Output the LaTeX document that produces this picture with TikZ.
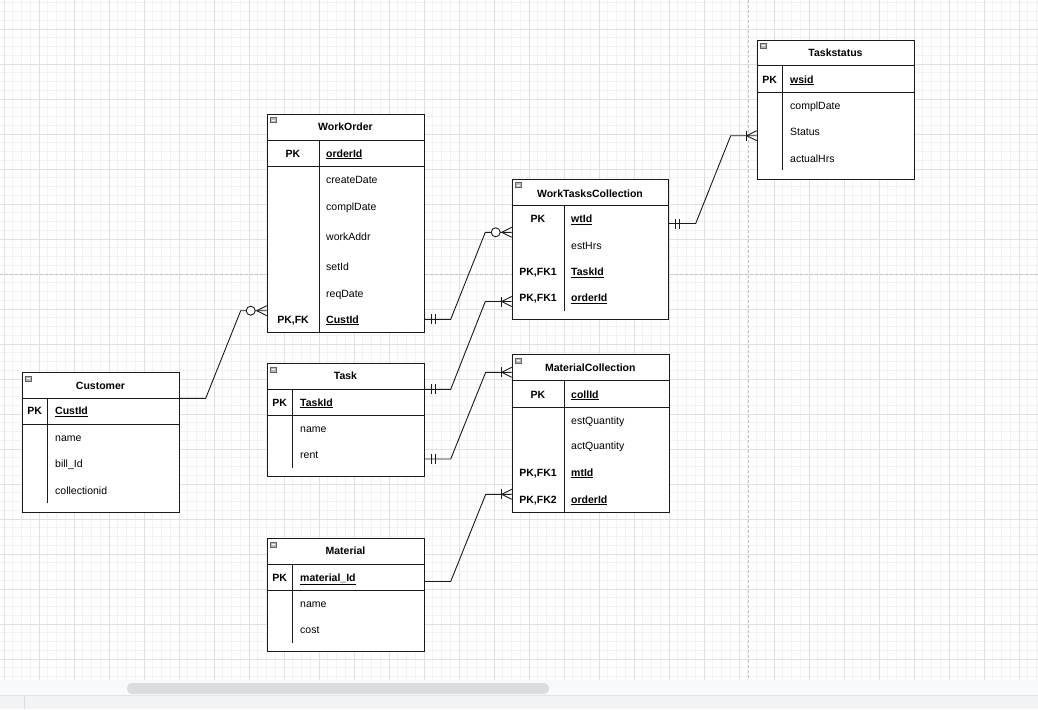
\documentclass[tikz,border=0pt]{standalone}
\usepackage{fontspec}
\setmainfont{Liberation Sans}
\usetikzlibrary{calc}
\definecolor{minorgrid}{HTML}{F2F2F2}
\definecolor{majorgrid}{HTML}{E0E0E0}
\definecolor{pagebreak}{HTML}{C4C4C4}
\definecolor{barbg}{HTML}{F8F9FA}
\definecolor{footbg}{HTML}{F1F3F4}
\definecolor{thumb}{HTML}{DADCE0}
\definecolor{linec}{HTML}{1A1A1A}
\tikzset{
  tbl/.style={draw=linec, fill=white, line width=0.9pt, inner sep=0pt},
  inner/.style={draw=linec, line width=0.9pt},
  conn/.style={draw=linec, line width=0.9pt},
  ttlst/.style={anchor=base, inner sep=0pt, font=\fontsize{10.5}{12}\selectfont\bfseries},
  keyst/.style={anchor=base, inner sep=0pt, font=\fontsize{10.5}{12}\selectfont\bfseries},
  fldst/.style={anchor=base west, inner sep=0pt, font=\fontsize{10.5}{12}\selectfont},
  iconst/.style={fill=gray!55, draw=gray!75!black, line width=0.5pt},
}
\newcommand\ertitle[4]{\node[ttlst] (#1) at (#2,#3+3.8) {#4};}
\newcommand\erkey[4]{\node[keyst] (#1) at (#2,#3+3.8) {#4};}
\newcommand\erfld[4]{\node[fldst] (#1) at (#2,#3+3.8) {#4};}
\newcommand\erufld[4]{\node[fldst] (#1) at (#2,#3+3.8) {\bfseries\underline{#4}};}
\newcommand\ericon[2]{\draw[iconst] (#1+3.5,#2+3.5) rectangle ++(6.5,5);
  \draw[white, line width=0.7pt] (#1+4.8,#2+6) -- ++(3.9,0);}
\newcommand\crowend[1]{\draw[conn] ($(#1)+(-10,0)$) -- ($(#1)+(0,-5)$) ($(#1)+(-10,0)$) -- ($(#1)+(0,5)$);}
\newcommand\barend[1]{\draw[conn] ($(#1)+(-10,-5)$) -- ($(#1)+(-10,5)$);}
\newcommand\zeroend[1]{\draw[conn, fill=white] ($(#1)+(-16,0)$) circle (4.5);}
\newcommand\twobars[1]{\draw[conn] ($(#1)+(6,-5)$) -- ($(#1)+(6,5)$) ($(#1)+(10.5,-5)$) -- ($(#1)+(10.5,5)$);}
\begin{document}
\begin{tikzpicture}[x=1pt,y=-1pt]
\useasboundingbox (0,0) rectangle (1038,709);
\fill[white] (0,0) rectangle (1038,709);
% grid
\begin{scope}
\clip (0,0) rectangle (1038,680);
\foreach \i in {-1,...,118} \draw[minorgrid, line width=0.8pt] ({4+8.75*\i},0) -- ++(0,680);
\foreach \j in {0,...,78} \draw[minorgrid, line width=0.8pt] (0,{2.75+8.75*\j}) -- ++(1038,0);
\foreach \i in {0,...,29} \draw[majorgrid, line width=0.8pt] ({4+35*\i},0) -- ++(0,680);
\foreach \j in {0,...,20} \draw[majorgrid, line width=0.8pt] (0,{-6+35*\j}) -- ++(1038,0);
\draw[pagebreak, line width=1pt, dash pattern=on 3pt off 2pt] (0,274) -- (1038,274);
\draw[pagebreak, line width=1pt, dash pattern=on 3pt off 2pt] (748,0) -- (748,680);
\end{scope}
% scrollbar area
\fill[barbg] (0,680) rectangle (1038,695);
\draw[thumb!80, line width=0.8pt] (0,695.5) -- (1038,695.5);
\fill[footbg] (0,696) rectangle (1038,709);
\draw[thumb, line width=0.8pt] (24.5,696) -- (24.5,709);
\fill[thumb, rounded corners=5pt] (127,683) rectangle (549,694);

% ---------------- Customer
\node[tbl, anchor=north west, minimum width=157.6, minimum height=139.4] (cu) at (21.7,372.3) {};
\draw[inner] (21.7,398.3) -- (179.3,398.3) (21.7,424.7) -- (179.3,424.7) (47.7,398.3) -- (47.7,503.3);
\ericon{21.7}{372.3}
\ertitle{cu-t}{100.5}{385.7}{Customer}
\erkey{cu-k1}{34.7}{411}{PK}
\erufld{cu-f1}{55}{411}{CustId}
\erfld{cu-f2}{55}{437.3}{name}
\erfld{cu-f3}{55}{464}{bill\_Id}
\erfld{cu-f4}{55}{490.7}{collectionid}

% ---------------- WorkOrder
\node[tbl, anchor=north west, minimum width=157.6, minimum height=218.3] (wo) at (266.7,114) {};
\draw[inner] (266.7,140) -- (424.3,140) (266.7,166) -- (424.3,166) (319.3,140) -- (319.3,332.3);
\ericon{266.7}{114}
\ertitle{wo-t}{345.5}{126.7}{WorkOrder}
\erkey{wo-k1}{293}{153.3}{PK}
\erkey{wo-k2}{293}{319.3}{PK,FK}
\erufld{wo-f1}{326}{153.3}{orderId}
\erfld{wo-f2}{326}{179.3}{createDate}
\erfld{wo-f3}{326}{206.7}{complDate}
\erfld{wo-f4}{326}{236.7}{workAddr}
\erfld{wo-f5}{326}{266.7}{setId}
\erfld{wo-f6}{326}{293.3}{reqDate}
\erufld{wo-f7}{326}{319.3}{CustId}

% ---------------- Task
\node[tbl, anchor=north west, minimum width=157.6, minimum height=112.4] (ta) at (266.7,363.3) {};
\draw[inner] (266.7,389) -- (424.3,389) (266.7,415.7) -- (424.3,415.7) (292.7,389) -- (292.7,468.3);
\ericon{266.7}{363.3}
\ertitle{ta-t}{345.5}{376}{Task}
\erkey{ta-k1}{279.7}{402.3}{PK}
\erufld{ta-f1}{300}{402.3}{TaskId}
\erfld{ta-f2}{300}{429}{name}
\erfld{ta-f3}{300}{455}{rent}

% ---------------- Material
\node[tbl, anchor=north west, minimum width=157.6, minimum height=112.4] (ma) at (266.7,538.3) {};
\draw[inner] (266.7,564) -- (424.3,564) (266.7,590.7) -- (424.3,590.7) (292.7,564) -- (292.7,643.3);
\ericon{266.7}{538.3}
\ertitle{ma-t}{345.5}{551}{Material}
\erkey{ma-k1}{279.7}{577.3}{PK}
\erufld{ma-f1}{300}{577.3}{material\_Id}
\erfld{ma-f2}{300}{604}{name}
\erfld{ma-f3}{300}{630}{cost}

% ---------------- WorkTasksCollection
\node[tbl, anchor=north west, minimum width=156.6, minimum height=140] (wt) at (511.7,179) {};
\draw[inner] (511.7,205.7) -- (668.3,205.7) (564.3,205.7) -- (564.3,311);
\ericon{511.7}{179}
\ertitle{wt-t}{590}{193.3}{WorkTasksCollection}
\erkey{wt-k1}{538}{219}{PK}
\erkey{wt-k2}{538}{271.7}{PK,FK1}
\erkey{wt-k3}{538}{297.7}{PK,FK1}
\erufld{wt-f1}{571}{219}{wtId}
\erfld{wt-f2}{571}{245.7}{estHrs}
\erufld{wt-f3}{571}{271.7}{TaskId}
\erufld{wt-f4}{571}{297.7}{orderId}

% ---------------- MaterialCollection
\node[tbl, anchor=north west, minimum width=157.3, minimum height=157.4] (mc) at (511.7,354.3) {};
\draw[inner] (511.7,380) -- (669,380) (511.7,407.3) -- (669,407.3) (564.3,380) -- (564.3,511.7);
\ericon{511.7}{354.3}
\ertitle{mc-t}{590.3}{367.3}{MaterialCollection}
\erkey{mc-k1}{538}{394.3}{PK}
\erkey{mc-k2}{538}{472.3}{PK,FK1}
\erkey{mc-k3}{538}{499.3}{PK,FK2}
\erufld{mc-f1}{571}{394.3}{collId}
\erfld{mc-f2}{571}{420.3}{estQuantity}
\erfld{mc-f3}{571}{446}{actQuantity}
\erufld{mc-f4}{571}{472.3}{mtId}
\erufld{mc-f5}{571}{499.3}{orderId}

% ---------------- Taskstatus
\node[tbl, anchor=north west, minimum width=157.6, minimum height=139.3] (ts) at (756.7,39.7) {};
\draw[inner] (756.7,65.7) -- (914.3,65.7) (756.7,92.3) -- (914.3,92.3) (782.7,65.7) -- (782.7,170);
\ericon{756.7}{39.7}
\ertitle{ts-t}{835.5}{52.7}{Taskstatus}
\erkey{ts-k1}{769.7}{79.3}{PK}
\erufld{ts-f1}{790}{79.3}{wsid}
\erfld{ts-f2}{790}{105.7}{complDate}
\erfld{ts-f3}{790}{131.7}{Status}
\erfld{ts-f4}{790}{158.3}{actualHrs}

% ---------------- connector end points
\coordinate (c1a) at (cu.east |- 0,398.3);
\coordinate (c1b) at (wo.west |- 0,310.7);
\coordinate (c2a) at (wo.east |- 0,319.3);
\coordinate (c2b) at (wt.west |- 0,232.3);
\coordinate (c3a) at (ta.east |- 0,389.3);
\coordinate (c3b) at (wt.west |- 0,301.5);
\coordinate (c4a) at (ta.east |- 0,459);
\coordinate (c4b) at (mc.west |- 0,372.3);
\coordinate (c5a) at (ma.east |- 0,581.5);
\coordinate (c5b) at (mc.west |- 0,494.3);
\coordinate (c6a) at (wt.east |- 0,223.5);
\coordinate (c6b) at (ts.west |- 0,135.7);

% Customer -> WorkOrder
\draw[conn] (c1a) -- (205.7,398.3) -- (240.7,310.7) -- (c1b);
\crowend{c1b}\zeroend{c1b}
% WorkOrder -> WorkTasksCollection
\draw[conn] (c2a) -- (450.7,319.3) -- (485.3,232.3) -- (c2b);
\twobars{c2a}\crowend{c2b}\zeroend{c2b}
% Task -> WorkTasksCollection
\draw[conn] (c3a) -- (450.7,389.3) -- (485.3,301.5) -- (c3b);
\twobars{c3a}\crowend{c3b}\barend{c3b}
% Task -> MaterialCollection
\draw[conn] (c4a) -- (450.7,459) -- (485.7,372.3) -- (c4b);
\twobars{c4a}\crowend{c4b}\barend{c4b}
% Material -> MaterialCollection
\draw[conn] (c5a) -- (450.7,581.5) -- (485.7,494.3) -- (c5b);
\crowend{c5b}\barend{c5b}
% WorkTasksCollection -> Taskstatus
\draw[conn] (c6a) -- (695.7,223.5) -- (730.7,135.7) -- (c6b);
\twobars{c6a}\crowend{c6b}\barend{c6b}
\end{tikzpicture}
\end{document}
